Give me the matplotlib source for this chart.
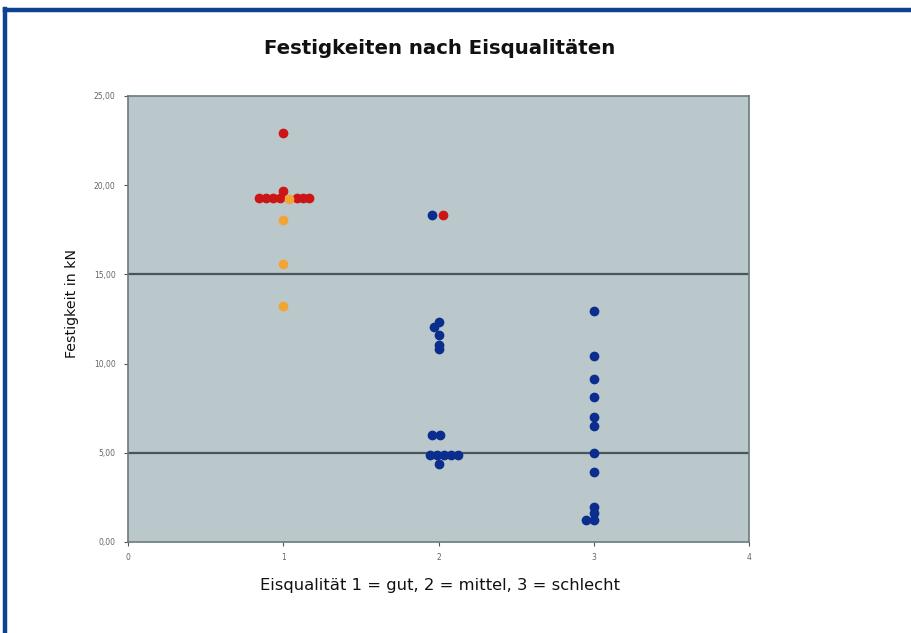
import matplotlib.pyplot as plt
from matplotlib.lines import Line2D
from matplotlib.ticker import FuncFormatter

# Messwerte (x = Eisqualität mit seitlichem Versatz, y = Festigkeit in kN)
rot_x = [1.00, 0.845, 0.89, 0.935, 0.98, 1.00, 1.09, 1.13, 1.165, 2.03]
rot_y = [22.9, 19.3, 19.3, 19.3, 19.3, 19.7, 19.3, 19.3, 19.3, 18.3]

orange_x = [1.04, 1.00, 1.00, 1.00]
orange_y = [19.25, 18.05, 15.6, 13.2]

blau_x = [1.96, 2.00, 1.97, 2.00, 2.00, 2.00, 1.96, 2.01,
          1.945, 1.99, 2.035, 2.08, 2.125, 2.00,
          3.0, 3.0, 3.0, 3.0, 3.0, 3.0, 3.0, 3.0, 3.0, 3.0, 2.95, 3.0]
blau_y = [18.3, 12.35, 12.05, 11.6, 11.05, 10.8, 6.0, 6.0,
          4.9, 4.9, 4.9, 4.9, 4.9, 4.35,
          12.95, 10.4, 9.15, 8.1, 7.0, 6.5, 5.0, 3.9, 1.95, 1.6, 1.25, 1.25]

x_ticks = [0, 1, 2, 3, 4]
y_ticks = [0, 5, 10, 15, 20, 25]
grenzen = [5, 15]

fig = plt.figure(figsize=(9.12, 6.33), dpi=100)
fig.patch.set_facecolor('white')
ax = fig.add_axes([0.1404, 0.1438, 0.6809, 0.7046])
ax.set_facecolor('#bbc8cb')

for g in grenzen:
    ax.axhline(g, color='#47565a', lw=1.6, zorder=1)

ax.plot(blau_x, blau_y, 'o', color='#0b2d8e', ms=6, mec='#0b2d8e', zorder=3)
ax.plot(rot_x, rot_y, 'o', color='#cc1515', ms=6, mec='#cc1515', zorder=4)
ax.plot(orange_x, orange_y, 'o', color='#f2a535', ms=6, mec='#f2a535', zorder=5)

ax.set_xlim(0, 4)
ax.set_ylim(0, 25)
ax.set_xticks(x_ticks)
ax.set_yticks(y_ticks)
ax.yaxis.set_major_formatter(FuncFormatter(lambda v, p: f'{v:.2f}'.replace('.', ',')))
ax.tick_params(axis='both', labelsize=5.5, labelcolor='#666666', color='#555555',
               length=3, width=0.8, direction='out')
ax.tick_params(axis='y', pad=6)
ax.tick_params(axis='x', pad=5)
for s in ax.spines.values():
    s.set_color('#6b7a7d')
    s.set_linewidth(1.2)

fig.text(0.4825, 0.924, 'Festigkeiten nach Eisqualitäten', ha='center', va='center',
         fontsize=14.2, fontweight='bold', color='#111111')
fig.text(0.4825, 0.075, 'Eisqualität 1 = gut, 2 = mittel, 3 = schlecht', ha='center',
         va='center', fontsize=11.8, color='#111111')
fig.text(0.079, 0.521, 'Festigkeit in kN', ha='center', va='center', rotation=90,
         fontsize=10.2, color='#111111')

# blauer Rahmen oben und links
fig.add_artist(Line2D([0.006, 1.0], [0.984, 0.984], color='#0d4193', lw=3.2,
                      transform=fig.transFigure))
fig.add_artist(Line2D([0.006, 0.006], [0.0, 0.986], color='#0d4193', lw=3.2,
                      transform=fig.transFigure))

fig.savefig('out.png', dpi=100)
